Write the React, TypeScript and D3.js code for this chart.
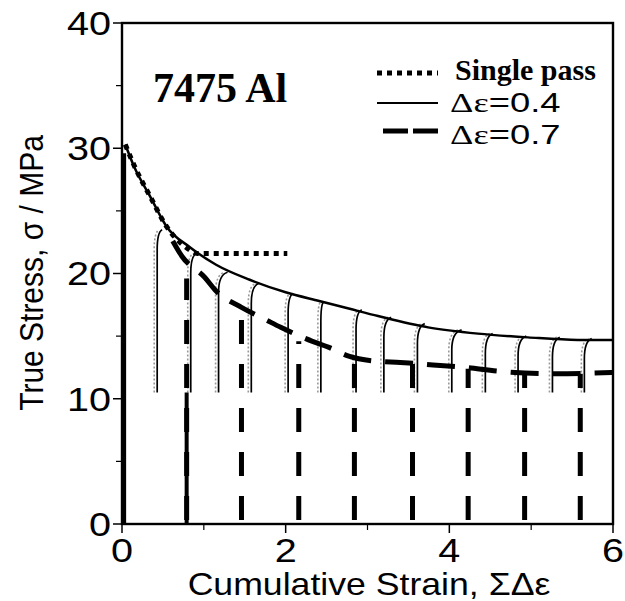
import React from 'react';
import * as d3 from 'd3';

// axis ticks
const strainTicks = [0, 2, 4, 6];
const strainMinor = [1, 3, 5];
const stressTicks = [0, 10, 20, 30, 40];
const stressMinor = [5, 15, 25, 35];

// single pass flow curve [strain, stress]
const singlePass: [number, number][] = [
  [0.04, 30.3], [0.15, 28.6], [0.34, 26.2], [0.55, 23.7], [0.8, 22.0],
  [0.92, 21.6], [1.4, 21.6], [2.02, 21.6],
];

// envelope of the passes with strain step 0.4
const env04: [number, number][] = [
  [0.04, 30.3], [0.15, 28.5], [0.34, 26.2], [0.55, 23.7], [0.83, 22.1],
  [1.15, 20.7], [1.56, 19.5], [2.0, 18.5], [2.41, 17.8], [2.77, 17.2],
  [3.13, 16.6], [3.74, 15.7], [4.35, 15.2], [4.96, 14.9], [5.57, 14.7], [6.0, 14.7],
];

// envelope of the passes with strain step 0.7
const env07: [number, number][] = [
  [0.62, 22.6], [0.73, 21.4], [1.01, 19.7], [1.15, 18.6], [1.46, 17.3],
  [1.76, 16.3], [1.94, 15.7], [2.32, 14.6], [2.53, 14.1], [2.77, 13.4],
  [3.1, 13.0], [3.4, 12.9], [3.8, 12.7], [4.2, 12.5], [4.6, 12.2],
  [5.3, 12.0], [6.0, 12.1],
];

// reloads for step 0.4: start strain, strain at rejoin, stress at rejoin
const pass04Start = [0.43, 0.84, 1.18, 1.58, 2.03, 2.43, 2.86, 3.2, 3.61, 4.03, 4.44, 4.84, 5.26, 5.65];
const pass04End = [0.49, 0.91, 1.29, 1.67, 2.09, 2.46, 2.93, 3.29, 3.7, 4.15, 4.53, 4.94, 5.35, 5.74];
const pass04Peak = [23.5, 21.6, 20.1, 19.2, 18.4, 17.7, 17.1, 16.5, 16.0, 15.5, 15.2, 15.0, 14.9, 14.8];
const pass04Low = 10.5;

// reloads for step 0.7
const pass07Start = [0.79, 1.46, 2.16, 2.84, 3.55, 4.23, 4.92, 5.6];
const pass07Top = [19.6, 16.6, 14.6, 13.2, 12.8, 12.4, 12.1, 12.0];

const W = 625;
const H = 601;

export default function App() {
  const x = d3.scaleLinear().domain([0, 6]).range([122, 613]);
  const y = d3.scaleLinear().domain([0, 40]).range([524, 23]);
  const line = d3.line<[number, number]>()
    .x((d) => x(d[0]))
    .y((d) => y(d[1]))
    .curve(d3.curveMonotoneX);

  const reload = (s: number, e: number, p: number, dx: number) => {
    const path = d3.path();
    path.moveTo(x(s) + dx, y(pass04Low));
    path.lineTo(x(s) + dx, y(p - 1.6));
    path.quadraticCurveTo(x(s) + dx, y(p - 0.2), x(e) + dx, y(p));
    return path.toString();
  };

  const sans = "'Liberation Sans', Arial, sans-serif";
  const serif = "'Liberation Serif', 'Times New Roman', serif";

  return (
    <svg width={W} height={H} style={{ position: 'absolute', left: 0, top: 0, background: '#fff' }}>
      {/* gray dotted reloads */}
      {pass04Start.map((s, i) => (
        <path key={'g' + i} d={reload(s, pass04End[i], pass04Peak[i], -3)} fill="none"
          stroke="#999" strokeWidth={1.6} strokeDasharray="2 2" />
      ))}
      {/* solid reloads */}
      {pass04Start.map((s, i) => (
        <path key={'r' + i} d={reload(s, pass04End[i], pass04Peak[i], 0)} fill="none"
          stroke="#000" strokeWidth={1.7} />
      ))}
      {/* dashed reloads */}
      {pass07Start.map((s, i) => (
        <line key={'d' + i} x1={x(s)} x2={x(s)} y1={y(0)} y2={y(pass07Top[i])}
          stroke="#000" strokeWidth={5} strokeDasharray="24 20" strokeDashoffset={-4} />
      ))}
      <line x1={x(pass07Start[0])} x2={x(pass07Start[0])} y1={y(0)} y2={y(pass04Low)}
        stroke="#000" strokeWidth={4} />
      {/* initial loading */}
      <line x1={x(0.02)} x2={x(0.02)} y1={y(0)} y2={y(29.6)} stroke="#000" strokeWidth={5} />
      <path d={line(env04) || ''} fill="none" stroke="#000" strokeWidth={2.5} />
      <path d={line(env07) || ''} fill="none" stroke="#000" strokeWidth={5} strokeDasharray="28 14" />
      <path d={line(singlePass) || ''} fill="none" stroke="#000" strokeWidth={5} strokeDasharray="5 5" />

      {/* frame */}
      <rect x={x(0)} y={y(40)} width={x(6) - x(0)} height={y(0) - y(40)} fill="none" stroke="#000" strokeWidth={2.4} />

      {/* y axis */}
      {stressTicks.map((t) => (
        <g key={'yt' + t}>
          <line x1={x(0) - 9} x2={x(0)} y1={y(t)} y2={y(t)} stroke="#000" strokeWidth={1.5} />
          <text transform={`translate(111, ${y(t)}) scale(1.2, 1)`} dy="0.36em" textAnchor="end"
            fontFamily={sans} fontSize={33}>{t}</text>
        </g>
      ))}
      {stressMinor.map((t) => (
        <line key={'ym' + t} x1={x(0) - 6} x2={x(0)} y1={y(t)} y2={y(t)} stroke="#000" strokeWidth={1.2} />
      ))}
      {/* x axis */}
      {strainTicks.map((t) => (
        <g key={'xt' + t}>
          <line x1={x(t)} x2={x(t)} y1={y(0)} y2={y(0) + 9} stroke="#000" strokeWidth={1.5} />
          <text transform={`translate(${x(t)}, 562) scale(1.2, 1)`} textAnchor="middle"
            fontFamily={sans} fontSize={33}>{t}</text>
        </g>
      ))}
      {strainMinor.map((t) => (
        <line key={'xm' + t} x1={x(t)} x2={x(t)} y1={y(0)} y2={y(0) + 6} stroke="#000" strokeWidth={1.2} />
      ))}
      <text transform="translate(369, 595) scale(1.15, 1)" textAnchor="middle" fontFamily={sans} fontSize={31}>
        Cumulative Strain, ΣΔε
      </text>
      <text transform="translate(43, 273) rotate(-90) scale(1, 1.1)" textAnchor="middle" fontFamily={sans} fontSize={30}>
        True Stress, σ / MPa
      </text>

      {/* labels */}
      <text x={153} y={102} fontFamily={serif} fontWeight="bold" fontSize={42}>7475 Al</text>
      <line x1={377} x2={438} y1={73} y2={73} stroke="#000" strokeWidth={5} strokeDasharray="5 5" />
      <text x={455} y={80} fontFamily={serif} fontWeight="bold" fontSize={30}>Single pass</text>
      <line x1={377} x2={438} y1={103} y2={103} stroke="#000" strokeWidth={2} />
      <text transform="translate(450, 112) scale(1.3, 1)" fontSize={28}>
        <tspan fontFamily={serif}>Δε</tspan><tspan fontFamily={sans}>=0.4</tspan>
      </text>
      <line x1={383} x2={438} y1={131} y2={131} stroke="#000" strokeWidth={5} strokeDasharray="25 5" />
      <text transform="translate(450, 144) scale(1.3, 1)" fontSize={28}>
        <tspan fontFamily={serif}>Δε</tspan><tspan fontFamily={sans}>=0.7</tspan>
      </text>
    </svg>
  );
}
